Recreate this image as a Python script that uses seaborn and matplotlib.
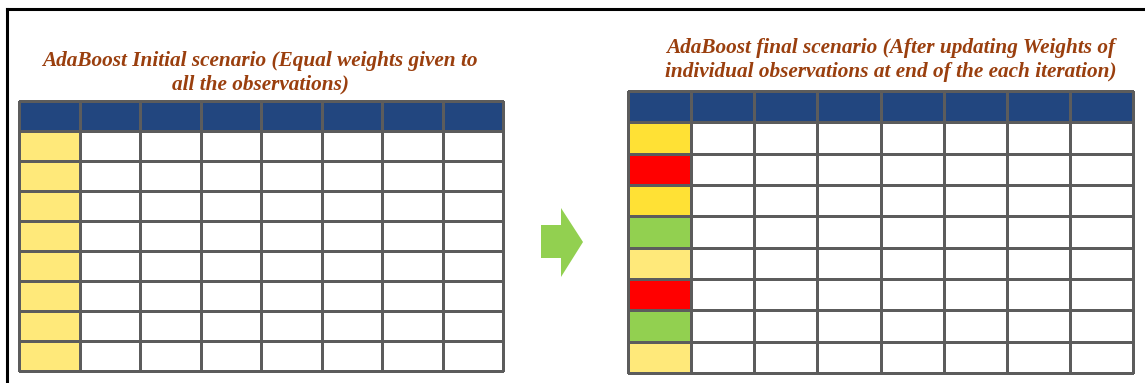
import numpy as np
import pandas as pd
import matplotlib
matplotlib.use('Agg')
import matplotlib.pyplot as plt
import seaborn as sns
from matplotlib.colors import ListedColormap, BoundaryNorm
from matplotlib.patches import Polygon
from matplotlib.lines import Line2D

# --- data -------------------------------------------------------------
n_features = 8
n_obs = 8
initial_weights = ['equal'] * n_obs
final_weights = ['high', 'highest', 'high', 'low', 'equal', 'highest', 'low', 'equal']
left_title = 'AdaBoost Initial scenario (Equal weights given to\nall the observations)'
right_title = ('AdaBoost final scenario (After updating Weights of\n'
               'individual observations at end of the each iteration)')

# codes -> colours
CODES = {'blank': 0, 'header': 1, 'equal': 2, 'high': 3, 'highest': 4, 'low': 5}
PALETTE = ['#ffffff', '#22467f', '#ffe97a', '#ffe135', '#ff0000', '#92d050']
cmap = ListedColormap(PALETTE)
norm = BoundaryNorm(np.arange(len(PALETTE) + 1) - 0.5, ncolors=len(PALETTE))

TITLE_COLOR = '#9a3f0e'
W, H = 1145, 383


def build_grid(weights):
    grid = np.zeros((n_obs + 1, n_features), dtype=int)
    grid[0, :] = CODES['header']
    for i, w in enumerate(weights):
        grid[i + 1, 0] = CODES[w]
    return pd.DataFrame(grid)


def px_axes(fig, x0, y0, x1, y1):
    # pixel box (from top-left) -> figure axes
    return fig.add_axes([x0 / W, (H - y1) / H, (x1 - x0) / W, (y1 - y0) / H])


fig = plt.figure(figsize=(W / 100, H / 100), dpi=100)
fig.patch.set_facecolor('white')

# frame lines (top and left)
fig.add_artist(Line2D([7 / W, 1], [1 - 9 / H, 1 - 9 / H], color='black', lw=2.2))
fig.add_artist(Line2D([7 / W, 7 / W], [0, 1 - 9 / H], color='black', lw=2.2))

panels = [
    (initial_weights, (19, 101, 503, 371), left_title, (260, 73)),
    (final_weights, (628, 91, 1133, 373), right_title, (891, 60)),
]

for weights, box, title, (tx, ty) in panels:
    ax = px_axes(fig, *box)
    sns.heatmap(build_grid(weights), cmap=cmap, norm=norm, cbar=False,
                linewidths=0.9, linecolor='#5c5c5c', ax=ax,
                xticklabels=False, yticklabels=False)
    for c in ax.collections:
        c.set_clip_on(False)
    ax.set_xlabel('')
    ax.set_ylabel('')
    fig.text(tx / W, 1 - ty / H, title, ha='center', va='center',
             family='Liberation Serif', style='italic', weight='bold',
             fontsize=15.3, color=TITLE_COLOR, linespacing=1.25)

# transition arrow
arrow_px = [(541, 225), (561, 225), (561, 208), (583, 242),
            (561, 277), (561, 258), (541, 258)]
arrow = Polygon([(x / W, 1 - y / H) for x, y in arrow_px], closed=True,
                facecolor='#92d050', edgecolor='none', transform=fig.transFigure)
fig.add_artist(arrow)

fig.savefig('out.png', dpi=100, facecolor='white')
